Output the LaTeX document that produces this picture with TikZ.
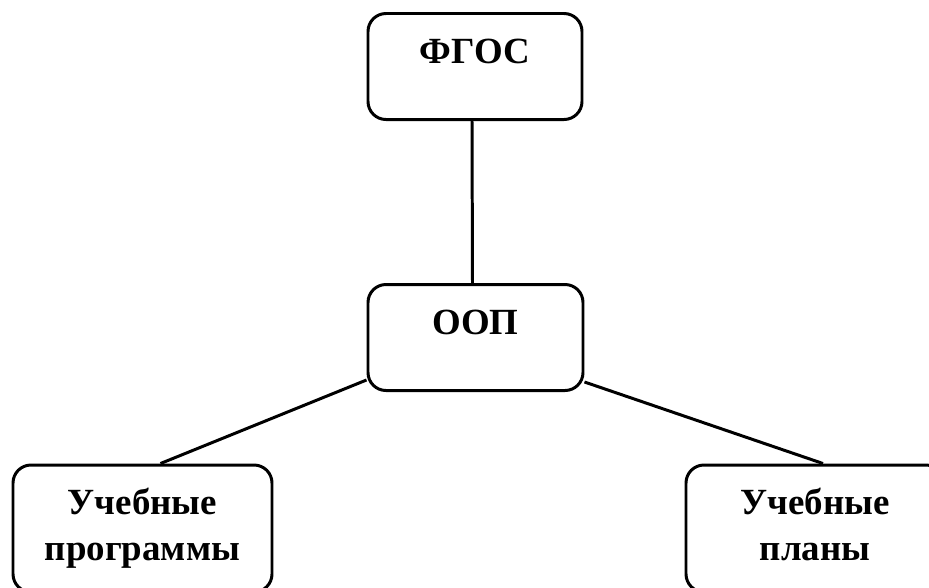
\documentclass[tikz,border=0pt]{standalone}
\usepackage{fontspec}
\setmainfont{Liberation Serif}
\usepackage{tikz}

\tikzset{
  blok/.style={draw,line width=1.7pt,rounded corners=0.36cm,inner xsep=0pt,
    font=\fontsize{21}{26}\selectfont\bfseries,align=center},
  verh/.style={blok,inner ysep=0.52cm,text height=0.48cm,text depth=0.6cm},
  svyaz/.style={line width=1.7pt}
}

\begin{document}
\begin{tikzpicture}

\useasboundingbox (0,0) rectangle (18.58,-11.74);

\node[verh,minimum width=4.28cm] (fgos) at (9.5,-1.33) {ФГОС};
\node[verh,minimum width=4.3cm] (oop) at (9.51,-6.75) {ООП};

\node[blok,minimum width=5.18cm,minimum height=2.54cm] (progr) at (2.85,-10.57) {Учебные\\программы};
\node[blok,minimum width=5.16cm,minimum height=2.54cm] (plany) at (16.3,-10.57) {Учебные\\планы\vphantom{р}};

\draw[svyaz] ([xshift=-0.06cm]fgos.south) -- ([xshift=-0.06cm]oop.north);
\draw[svyaz] ([yshift=0.24cm]oop.south west) -- ([xshift=0.36cm]progr.north);
\draw[svyaz] ([yshift=0.2cm]oop.south east) -- ([xshift=0.16cm]plany.north);

\end{tikzpicture}
\end{document}
